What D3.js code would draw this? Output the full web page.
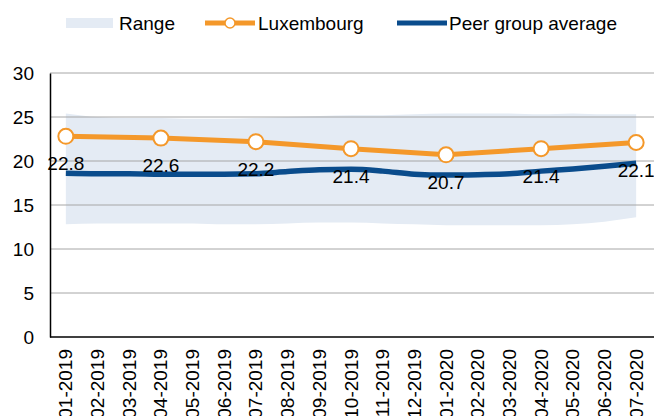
<!DOCTYPE html>
<html>
<head>
<meta charset="utf-8">
<script src="https://cdn.jsdelivr.net/npm/d3@7"></script>
<style>
  body { margin: 0; background: #fff; }
  text { font-family: "Liberation Sans", Arial, sans-serif; fill: #000; }
</style>
</head>
<body>
<div id="chart"></div>
<script>
const width = 654,
      height = 416,
      margin = {top: 73, right: 2, bottom: 79, left: 50};

const months = ["01-2019","02-2019","03-2019","04-2019","05-2019","06-2019","07-2019","08-2019","09-2019","10-2019","11-2019","12-2019",
                "01-2020","02-2020","03-2020","04-2020","05-2020","06-2020","07-2020"];
const yTicks = [0, 5, 10, 15, 20, 25, 30];

// Luxembourg: quarterly points only
const luxMonths = ["01-2019","04-2019","07-2019","10-2019","01-2020","04-2020","07-2020"];
const luxValues = [22.8, 22.6, 22.2, 21.4, 20.7, 21.4, 22.1];

const peerValues = [18.6, 18.55, 18.55, 18.5, 18.5, 18.5, 18.55, 18.8, 19.0, 19.05, 18.85, 18.5,
                    18.4, 18.45, 18.55, 18.85, 19.1, 19.4, 19.75];
const rangeHigh = [25.4, 25.0, 24.9, 24.9, 24.8, 24.8, 24.9, 25.0, 25.1, 25.2, 25.2, 25.3,
                   25.4, 25.4, 25.4, 25.3, 25.4, 25.3, 25.3];
const rangeLow = [12.8, 12.9, 12.9, 12.9, 12.9, 12.8, 12.8, 12.9, 13.0, 13.0, 12.9, 12.8,
                  12.7, 12.7, 12.7, 12.7, 12.8, 13.1, 13.6];

const orange = "#F4982A", blue = "#0A4C8C", band = "#E4EBF4";

const svg = d3.select("#chart").append("svg")
  .attr("width", width)
  .attr("height", height);

const x = d3.scaleBand()
  .domain(months)
  .range([margin.left, width - margin.right]);

const y = d3.scaleLinear()
  .domain([0, 30])
  .range([height - margin.bottom, margin.top]);

const cx = (m) => x(m) + x.bandwidth() / 2;

// Range band
const rangeData = months.map((m, i) => ({m: m, lo: rangeLow[i], hi: rangeHigh[i]}));
svg.append("path")
  .datum(rangeData)
  .attr("fill", band)
  .attr("d", d3.area()
    .x((d) => cx(d.m))
    .y0((d) => y(d.lo))
    .y1((d) => y(d.hi))
    .curve(d3.curveMonotoneX));

// Gridlines
svg.append("g")
  .selectAll("line")
  .data(yTicks.filter((d) => d > 0))
  .enter()
  .append("line")
  .attr("x1", margin.left)
  .attr("x2", width)
  .attr("y1", (d) => y(d))
  .attr("y2", (d) => y(d))
  .attr("stroke", "#A6A6A6")
  .attr("stroke-width", 1);

// Y axis
const yAxis = svg.append("g")
  .attr("transform", `translate(${margin.left},0)`)
  .call(d3.axisLeft(y).tickValues(yTicks).tickSize(0).tickPadding(16));
yAxis.select(".domain").attr("stroke", "#000").attr("stroke-width", 1.5);
yAxis.selectAll("text").style("font-size", "19px").attr("dy", "0.36em");

// X axis
const xAxis = svg.append("g")
  .attr("transform", `translate(0,${height - margin.bottom})`)
  .call(d3.axisBottom(x).tickSize(0).tickSizeOuter(0));
xAxis.select(".domain").attr("stroke", "#000").attr("stroke-width", 1.5)
  .attr("d", `M${margin.left},0H${width}`);
xAxis.selectAll("text")
  .style("font-size", "19px")
  .attr("text-anchor", "end")
  .attr("dy", null)
  .attr("transform", "rotate(-90)")
  .attr("x", -12)
  .attr("y", 0)
  .attr("dominant-baseline", "central");

// Peer group average line
svg.append("path")
  .datum(peerValues.map((v, i) => ({m: months[i], v: v})))
  .attr("fill", "none")
  .attr("stroke", blue)
  .attr("stroke-width", 5.5)
  .attr("d", d3.line()
    .x((d) => cx(d.m))
    .y((d) => y(d.v))
    .curve(d3.curveMonotoneX));

// Luxembourg line
const luxData = luxMonths.map((m, i) => ({m: m, v: luxValues[i]}));
svg.append("path")
  .datum(luxData)
  .attr("fill", "none")
  .attr("stroke", orange)
  .attr("stroke-width", 5)
  .attr("d", d3.line()
    .x((d) => cx(d.m))
    .y((d) => y(d.v)));

svg.append("g")
  .selectAll("circle")
  .data(luxData)
  .enter()
  .append("circle")
  .attr("cx", (d) => cx(d.m))
  .attr("cy", (d) => y(d.v))
  .attr("r", 7.5)
  .attr("fill", "#fff")
  .attr("stroke", orange)
  .attr("stroke-width", 2);

// Data labels
svg.append("g")
  .selectAll("text")
  .data(luxData)
  .enter()
  .append("text")
  .attr("x", (d) => cx(d.m))
  .attr("y", (d) => y(d.v) + 34)
  .attr("text-anchor", "middle")
  .style("font-size", "19px")
  .text((d) => d.v.toFixed(1));

// Legend
const legend = svg.append("g").attr("transform", "translate(0,23)");

legend.append("rect")
  .attr("x", 66).attr("y", -5)
  .attr("width", 47).attr("height", 10)
  .attr("fill", band);
legend.append("text")
  .attr("x", 119).attr("y", 6.5)
  .style("font-size", "19px")
  .text("Range");

legend.append("line")
  .attr("x1", 205).attr("x2", 255)
  .attr("stroke", orange).attr("stroke-width", 5);
legend.append("circle")
  .attr("cx", 230).attr("r", 5)
  .attr("fill", "#fff").attr("stroke", orange).attr("stroke-width", 1.5);
legend.append("text")
  .attr("x", 258).attr("y", 6.5)
  .style("font-size", "19px")
  .text("Luxembourg");

legend.append("line")
  .attr("x1", 397).attr("x2", 447)
  .attr("stroke", blue).attr("stroke-width", 5);
legend.append("text")
  .attr("x", 449).attr("y", 6.5)
  .style("font-size", "19px")
  .text("Peer group average");
</script>
</body>
</html>
